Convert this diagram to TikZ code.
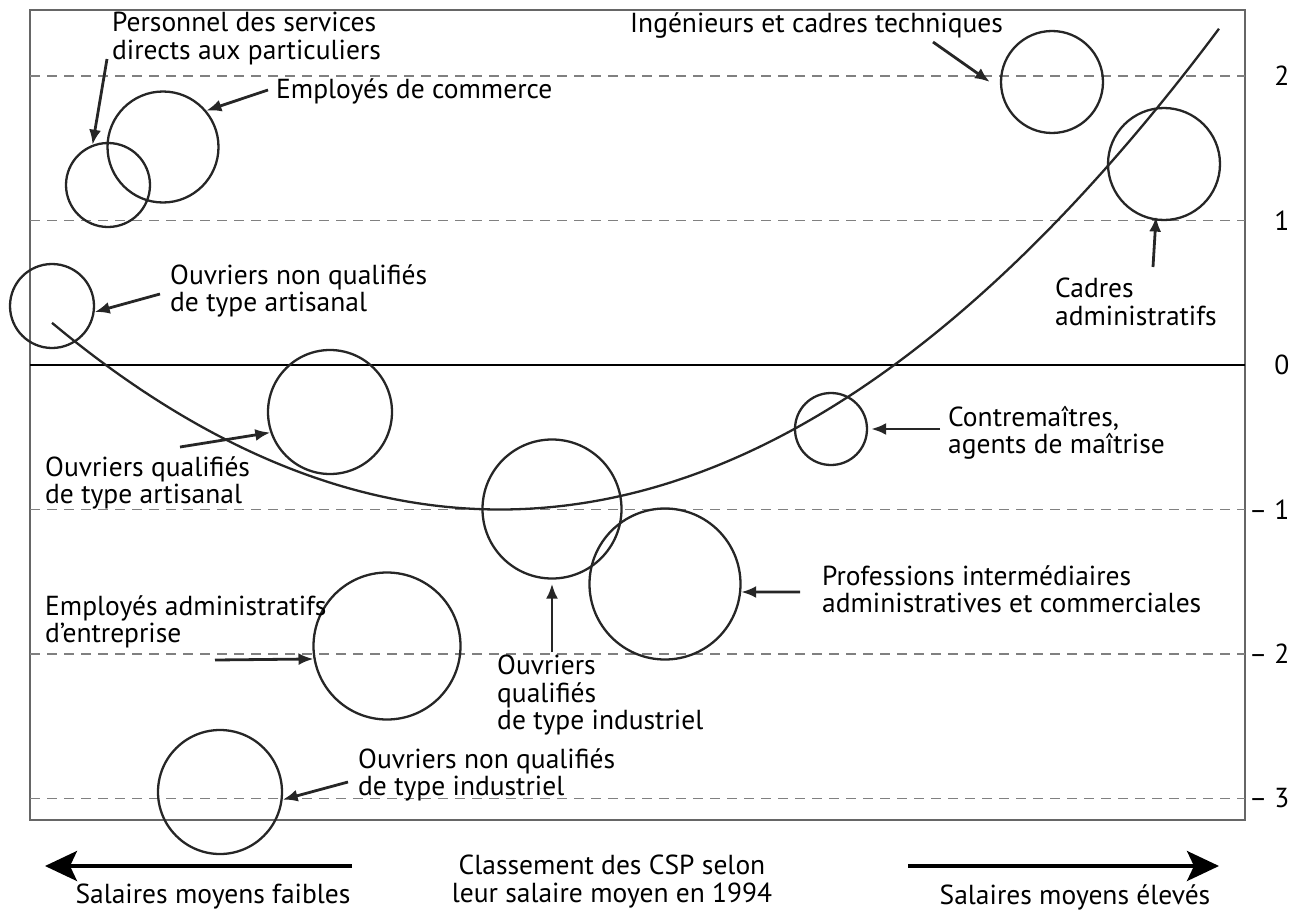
\documentclass[tikz,border=0pt]{standalone}
\usepackage{fontspec}
\setmainfont{PT Sans}
\usetikzlibrary{arrows.meta}
\begin{document}
\begin{tikzpicture}[x=1pt,y=-1pt,
  csp/.style={circle,draw=black!85,line width=2.3pt,inner sep=0pt},
  lbl/.style={align=left,anchor=north west,inner sep=0pt,font=\fontsize{27.5}{27.5}\selectfont},
  ptr/.style={line width=2.8pt,black!85,-{Latex[length=15pt,width=12pt]}},
  big/.style={line width=3.4pt,-{Stealth[length=32pt,width=30pt,inset=7pt]}},
  grid/.style={gray,line width=1.6pt,dash pattern=on 10pt off 7pt}]
\useasboundingbox (0,0) rectangle (1304,910);
%frame and lines
\draw[gray!80!black,line width=1.8pt] (30,10) rectangle (1245,820);
\foreach \v in {2,1,-1,-2,-3}
  \draw[grid] (30,{365-144.5*\v}) -- (1245,{365-144.5*\v});
\draw[line width=2pt] (30,365) -- (1245,365);
\foreach \v/\t in {2/2,1/1,0/0,-1/{– 1},-2/{– 2},-3/{– 3}}
  \node[anchor=east,font=\fontsize{27.5}{27.5}\selectfont] (tick\v) at (1293,{365-144.5*\v}) {\t};
%curve
\draw[line width=2.3pt,black!85] plot[domain=52:1219,samples=80,smooth] (\x,{509.5-9.3*((\x-500)/100)^2});
%circles
\node[csp,minimum size=84pt] (pers) at (108,185) {};
\node[csp,minimum size=111pt] (comm) at (163,147) {};
\node[csp,minimum size=84pt] (onqa) at (52,306) {};
\node[csp,minimum size=124pt] (oqa) at (330,412) {};
\node[csp,minimum size=139pt] (oqi) at (552,509) {};
\node[csp,minimum size=151pt] (pi) at (665,584) {};
\node[csp,minimum size=72pt] (cm) at (831,429) {};
\node[csp,minimum size=102pt] (ing) at (1052,82) {};
\node[csp,minimum size=112pt] (cadm) at (1164,164) {};
\node[csp,minimum size=147pt] (ea) at (387,646) {};
\node[csp,minimum size=124pt] (onqi) at (220,792) {};
%labels
\node[lbl] (l-pers) at (112,12) {Personnel des services\\directs aux particuliers};
\node[lbl] (l-comm) at (276,78) {Employés de commerce};
\node[lbl] (l-onqa) at (170,264) {Ouvriers non qualifiés\\de type artisanal};
\node[lbl] (l-oqa) at (45,456) {Ouvriers qualifiés\\de type artisanal};
\node[lbl] (l-ea) at (45,595) {Employés administratifs\\d’entreprise};
\node[lbl] (l-oqi) at (497,655) {Ouvriers\\qualifiés\\de type industriel};
\node[lbl] (l-onqi) at (358,748) {Ouvriers non qualifiés\\de type industriel};
\node[lbl] (l-pi) at (822,565) {Professions intermédiaires\\administratives et commerciales};
\node[lbl] (l-cm) at (948,406) {Contremaîtres,\\agents de maîtrise};
\node[lbl] (l-ing) at (630,12) {Ingénieurs et cadres techniques};
\node[lbl] (l-cadm) at (1055,278) {Cadres\\administratifs};
%pointers
\coordinate (s-pers) at (107,59);
\coordinate (s-comm) at (268,90);
\coordinate (s-onqa) at (160,294);
\coordinate (s-oqa) at (180,447);
\coordinate (s-ea) at (215,660);
\coordinate (s-oqi) at (552,652);
\coordinate (s-onqi) at (348,782);
\coordinate (s-pi) at (800,592);
\coordinate (s-cm) at (940,429);
\coordinate (s-ing) at (933,42);
\coordinate (s-cadm) at (1153,267);
\draw[ptr] (s-pers) -- (pers.111);
\draw[ptr] (s-comm) -- (comm.40);
\draw[ptr] (s-onqa) -- (onqa.352);
\draw[ptr] (s-oqa) -- (oqa.199);
\draw[ptr] (s-ea) -- (ea.190);
\draw[ptr] (s-oqi) -- ([yshift=-4pt]oqi.south);
\draw[ptr] (s-onqi) -- (onqi.353);
\draw[ptr] (s-pi) -- (pi.354);
\draw[ptr] (s-cm) -- ([xshift=3pt]cm.east);
\draw[ptr] (s-ing) -- ([xshift=-10pt]ing.west);
\draw[ptr] (s-cadm) -- ([yshift=4pt]cadm.262);
%bottom axis
\coordinate (lo) at (352,866);
\coordinate (lo-e) at (45,866);
\coordinate (hi) at (908,866);
\coordinate (hi-e) at (1219,866);
\draw[big] (lo) -- (lo-e);
\draw[big] (hi) -- (hi-e);
\node[lbl,anchor=north,align=center] (l-lo) at (213,884) {Salaires moyens faibles};
\node[lbl,anchor=north,align=center] (l-mid) at (612,855) {Classement des CSP selon\\leur salaire moyen en 1994};
\node[lbl,anchor=north,align=center] (l-hi) at (1075,884) {Salaires moyens élevés};
\end{tikzpicture}
\end{document}
